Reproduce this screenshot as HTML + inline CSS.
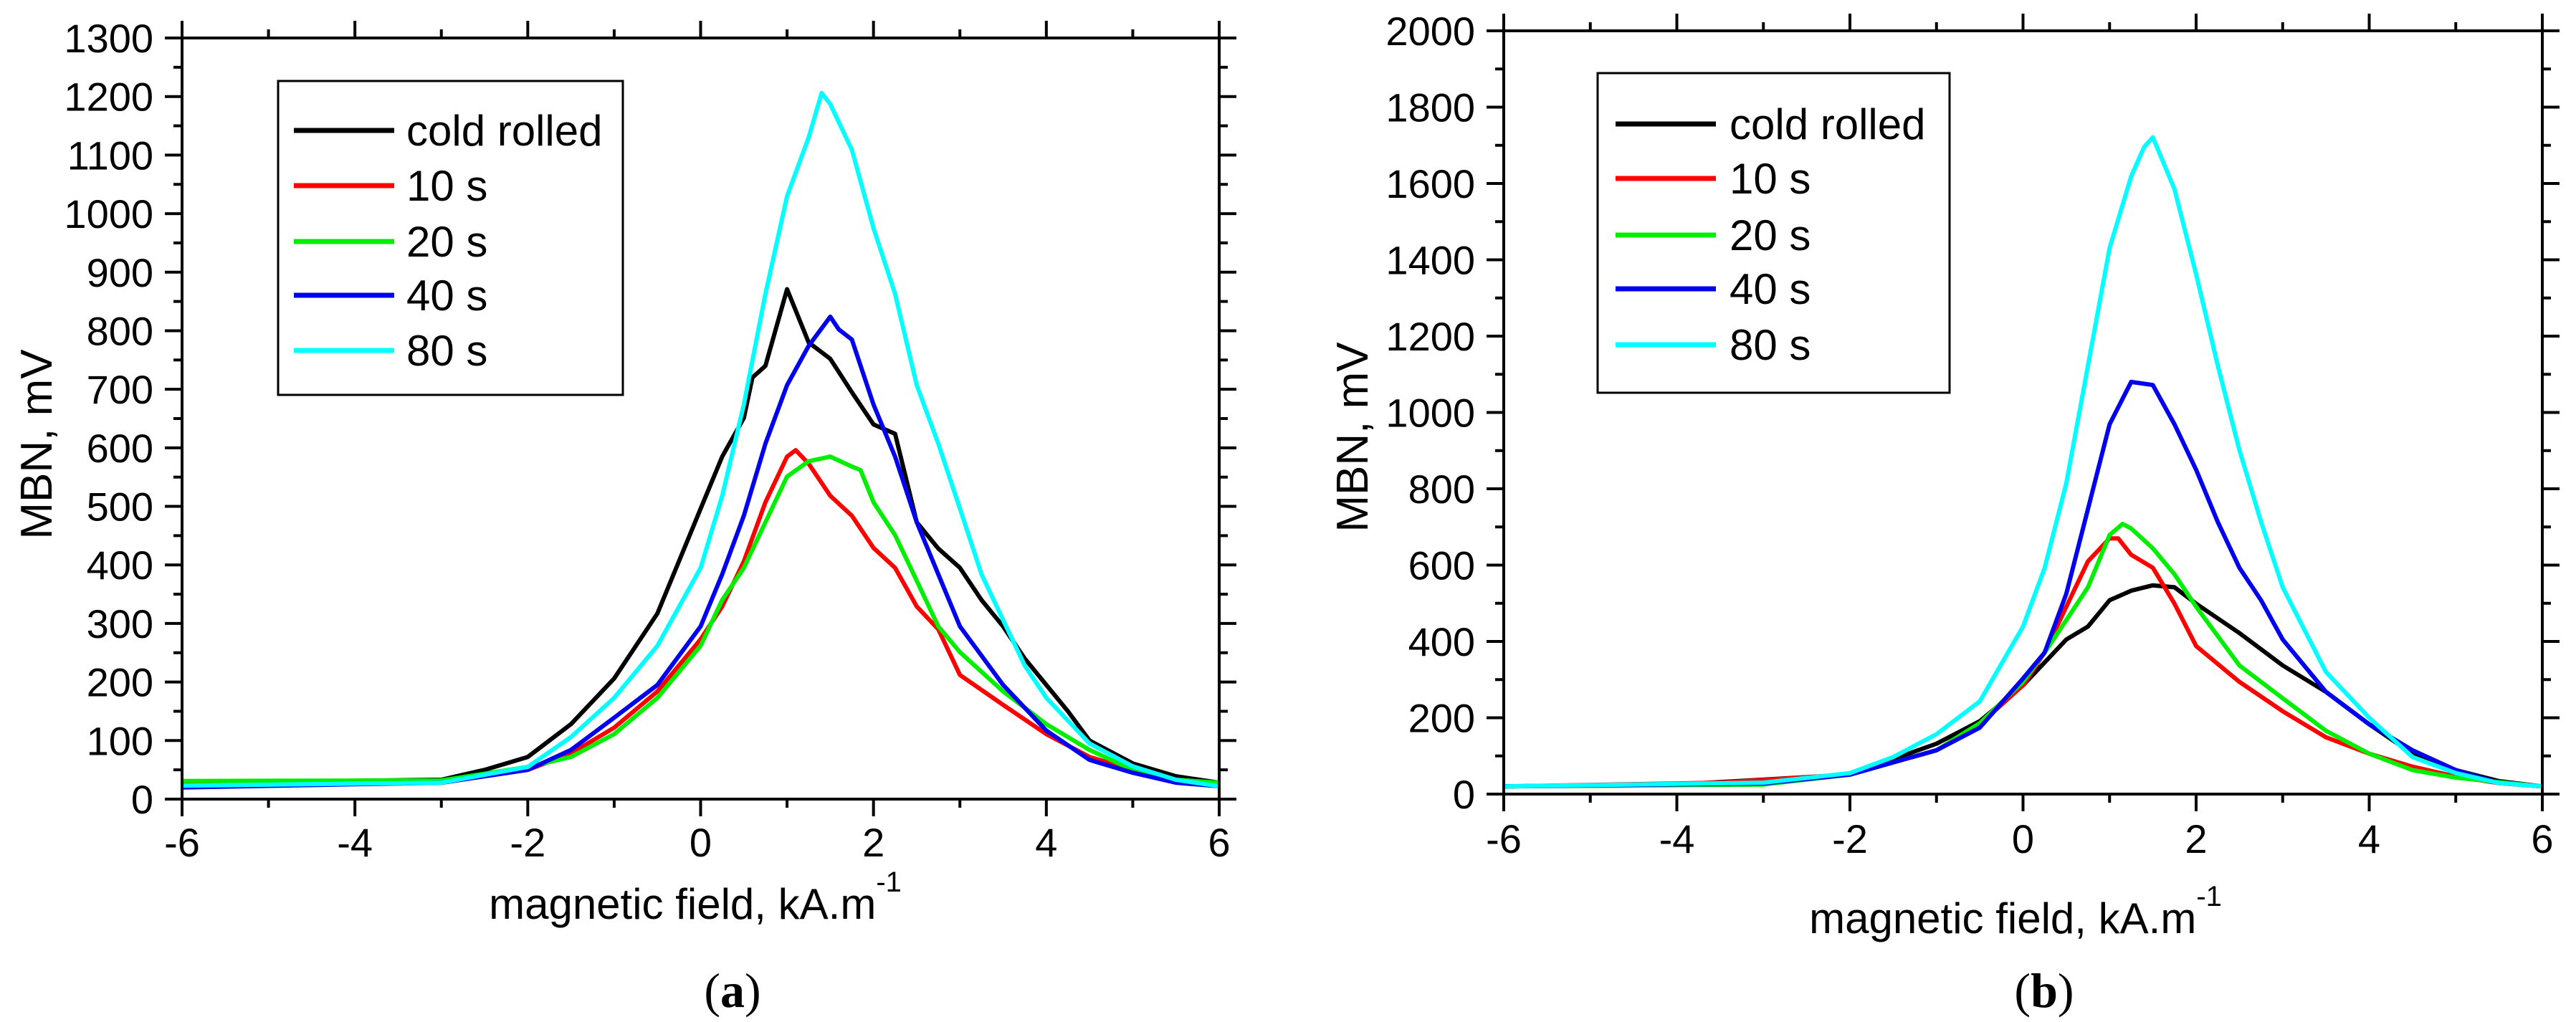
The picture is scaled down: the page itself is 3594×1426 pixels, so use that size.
<!DOCTYPE html>
<html><head><meta charset="utf-8"><style>
html,body{margin:0;padding:0;background:#fff;}
svg{display:block;font-family:"Liberation Sans",Arial,sans-serif;}
</style></head><body>
<svg id="fig" width="3594" height="1426" viewBox="0 0 3594 1426" xmlns="http://www.w3.org/2000/svg"></svg>
<script>
const xTicks = [-6,-4,-2,0,2,4,6];
const seriesNames = ["cold rolled","10 s","20 s","40 s","80 s"];
const seriesColors = ["#000000","#ff0000","#00ee00","#0000ee","#00ffff"];

// Panel (a)
const aYTicks = [0,100,200,300,400,500,600,700,800,900,1000,1100,1200,1300];
const aBlackX = [-6,-3,-2.5,-2,-1.5,-1,-0.5,0,0.25,0.5,0.6,0.75,1,1.25,1.5,1.75,2,2.25,2.5,2.75,3,3.25,3.5,3.75,4,4.25,4.5,5,5.5,6];
const aBlackY = [28,33,50,72,128,206,317,496,585,651,720,740,871,780,752,695,640,624,473,428,395,340,295,240,195,150,100,61,39,28];
const aRedX = [-6,-3,-2,-1.5,-1,-0.5,0,0.25,0.5,0.75,1,1.1,1.25,1.5,1.75,2,2.25,2.5,2.75,3,3.5,4,4.5,5,5.5,6];
const aRedY = [25,28,50,78,122,184,273,329,406,507,585,596,573,518,484,429,395,329,290,212,161,111,72,50,33,28];
const aGreenX = [-6,-3,-2,-1.5,-1,-0.5,0,0.25,0.5,0.75,1,1.25,1.5,1.75,1.85,2,2.25,2.5,2.75,3,3.5,4,4.5,5,5.5,6];
const aGreenY = [31,32,55,72,111,173,262,340,395,473,551,577,585,568,562,507,451,373,295,251,184,128,84,50,33,28];
const aBlueX = [-6,-3,-2,-1.5,-1,-0.5,0,0.25,0.5,0.75,1,1.25,1.5,1.6,1.75,2,2.25,2.5,2.75,3,3.5,4,4.5,5,5.5,6];
const aBlueY = [20,28,50,84,139,195,295,384,484,607,707,774,824,802,785,674,585,473,384,295,195,117,67,45,28,22];
const aCyanX = [-6,-3,-2,-1.5,-1,-0.5,0,0.25,0.5,0.75,1,1.25,1.4,1.5,1.75,2,2.25,2.5,2.75,3,3.25,3.5,3.75,4,4.5,5,5.5,6];
const aCyanY = [23,28,55,106,173,262,395,518,674,863,1030,1130,1206,1187,1109,975,863,707,607,496,384,306,228,173,95,56,33,22];

// Panel (b)
const bYTicks = [0,200,400,600,800,1000,1200,1400,1600,1800,2000];
const bBlackX = [-6,-4,-2,-1,-0.5,0,0.5,0.75,1,1.25,1.5,1.75,2,2.5,3,3.5,4,4.5,5,5.5,6];
const bBlackY = [20,25,51,132,191,285,405,439,508,533,547,542,499,422,337,268,183,106,63,34,20];
const bRedX = [-6,-4,-3.5,-2,-1,-0.5,0,0.25,0.5,0.75,1,1.1,1.25,1.5,1.75,2,2.5,3,3.5,4,4.5,5,5.5,6];
const bRedY = [20,28,30,51,115,183,285,371,491,610,670,670,627,593,499,388,294,217,149,106,72,46,29,20];
const bGreenX = [-6,-3,-2,-1,-0.5,0,0.25,0.5,0.75,1,1.15,1.25,1.5,1.75,2,2.5,3,3.5,4,4.5,5,6];
const bGreenY = [20,25,51,115,186,294,371,456,542,679,708,696,644,576,491,337,251,166,106,63,43,20];
const bBlueX = [-6,-3,-2,-1,-0.5,0,0.25,0.5,0.75,1,1.25,1.5,1.75,2,2.25,2.5,2.75,3,3.5,4,4.5,5,5.5,6];
const bBlueY = [20,28,51,115,174,303,371,525,747,969,1080,1072,969,850,713,593,508,405,268,183,115,63,29,20];
const bCyanX = [-6,-3,-2,-1.5,-1,-0.5,0,0.25,0.5,0.75,1,1.25,1.4,1.5,1.75,2,2.25,2.5,2.75,3,3.5,4,4.5,5,5.5,6];
const bCyanY = [20,30,55,97,157,243,439,593,815,1123,1431,1619,1696,1721,1585,1362,1123,901,713,542,320,200,97,55,29,20];

const NS = "http://www.w3.org/2000/svg";
const svg = document.getElementById("fig");
function mk(tag, attrs, parent) {
  const e = document.createElementNS(NS, tag);
  for (const k in attrs) e.setAttribute(k, attrs[k]);
  (parent || svg).appendChild(e);
  return e;
}

function panel(cfg) {
  const g = mk("g", {});
  
  
  const L = cfg.L, R = cfg.R, T = cfg.T, B = cfg.B;
  const ymax = cfg.yTicks[cfg.yTicks.length - 1];
  const sx = v => L + (v + 6) / 12 * (R - L);
  const sy = v => B - v / ymax * (B - T);

  // series
  const sx_ = cfg.xs, sy_ = cfg.ys;
  for (let s = 0; s < sx_.length; s++) {
    const pts = sx_[s].map((x, i) => sx(x).toFixed(1) + "," + sy(sy_[s][i]).toFixed(1)).join(" ");
    const pl = mk("polyline", {points: pts, fill: "none", stroke: seriesColors[s], "stroke-width": 6, "stroke-linejoin": "round"}, g);
    
    
  }

  // frame
  const fr = mk("rect", {x: L, y: T, width: R - L, height: B - T, fill: "none", stroke: "#000", "stroke-width": 4}, g);
  
  

  // x ticks
  const xa = mk("g", {}, g);
  
  
  for (let v = -6; v <= 6; v++) {
    const major = v % 2 === 0;
    const len = major ? 24 : 12;
    const x = sx(v);
    mk("line", {x1: x, y1: B, x2: x, y2: B + len, stroke: "#000", "stroke-width": 4}, xa);
    mk("line", {x1: x, y1: T, x2: x, y2: T - len, stroke: "#000", "stroke-width": 4}, xa);
  }
  xTicks.forEach(v => {
    const t = mk("text", {x: sx(v), y: cfg.xLabY, "text-anchor": "middle", "font-size": 56}, xa);
    t.textContent = String(v);
    
    
  });

  // y ticks
  const ya = mk("g", {}, g);
  
  
  const step = cfg.yTicks[1] - cfg.yTicks[0];
  for (let v = 0; v <= ymax + 1e-9; v += step / 2) {
    const major = Math.abs((v / step) - Math.round(v / step)) < 1e-6;
    const len = major ? 24 : 12;
    const y = sy(v);
    mk("line", {x1: L, y1: y, x2: L - len, y2: y, stroke: "#000", "stroke-width": 4}, ya);
    mk("line", {x1: R, y1: y, x2: R + len, y2: y, stroke: "#000", "stroke-width": 4}, ya);
  }
  cfg.yTicks.forEach(v => {
    const t = mk("text", {x: L - 40, y: sy(v) + 20, "text-anchor": "end", "font-size": 56}, ya);
    t.textContent = String(v);
    
    
  });

  // axis titles
  const xt = mk("text", {x: cfg.xTitleX, y: cfg.xTitleY, "text-anchor": "middle", "font-size": 60}, g);
  
  
  xt.appendChild(document.createTextNode("magnetic field, kA.m"));
  const sup = mk("tspan", {dy: -38, "font-size": 40}, xt);
  sup.textContent = "-1";

  const yt = mk("text", {x: 0, y: 0, "text-anchor": "middle", "font-size": 62, transform: "translate(" + cfg.yTitleX + "," + cfg.yTitleY + ") rotate(-90)"}, g);
  yt.textContent = "MBN, mV";
  
  

  // legend
  const lg = mk("g", {}, g);
  
  
  mk("rect", {x: cfg.lg[0], y: cfg.lg[1], width: cfg.lg[2], height: cfg.lg[3], fill: "#fff", stroke: "#000", "stroke-width": 3}, lg);
  seriesNames.forEach((n, i) => {
    const ey = cfg.legY[i];
    const e = mk("g", {}, lg);
    
    
    mk("line", {x1: cfg.lgLine[0], y1: ey, x2: cfg.lgLine[1], y2: ey, stroke: seriesColors[i], "stroke-width": 7}, e);
    const t = mk("text", {x: cfg.lgText, y: ey + 21, "font-size": 60}, e);
    t.textContent = n;
  });

  // panel label
  const pl = mk("text", {x: cfg.labX, y: cfg.labY, "text-anchor": "middle", "font-size": 68, "font-family": "Liberation Serif, serif"}, g);
  
  
  pl.appendChild(document.createTextNode("("));
  const b = mk("tspan", {"font-weight": "bold"}, pl);
  b.textContent = cfg.lab;
  pl.appendChild(document.createTextNode(")"));
}

panel({name: "panel-a", L: 254, R: 1701, T: 53, B: 1115, yTicks: aYTicks,
  xs: [aBlackX, aRedX, aGreenX, aBlueX, aCyanX], ys: [aBlackY, aRedY, aGreenY, aBlueY, aCyanY],
  xLabY: 1195, xTitleX: 970, xTitleY: 1282, yTitleX: 72, yTitleY: 620,
  lg: [388, 113, 481, 438], legY: [182, 259, 337, 412, 489], lgLine: [410, 550], lgText: 567,
  labX: 1022, labY: 1405, lab: "a"});

panel({name: "panel-b", L: 2098, R: 3547, T: 43, B: 1108, yTicks: bYTicks,
  xs: [bBlackX, bRedX, bGreenX, bBlueX, bCyanX], ys: [bBlackY, bRedY, bGreenY, bBlueY, bCyanY],
  xLabY: 1190, xTitleX: 2812, xTitleY: 1302, yTitleX: 1908, yTitleY: 610,
  lg: [2229, 102, 491, 446], legY: [173, 249, 328, 403, 481], lgLine: [2254, 2394], lgText: 2413,
  labX: 2852, labY: 1405, lab: "b"});
</script>
</body></html>
